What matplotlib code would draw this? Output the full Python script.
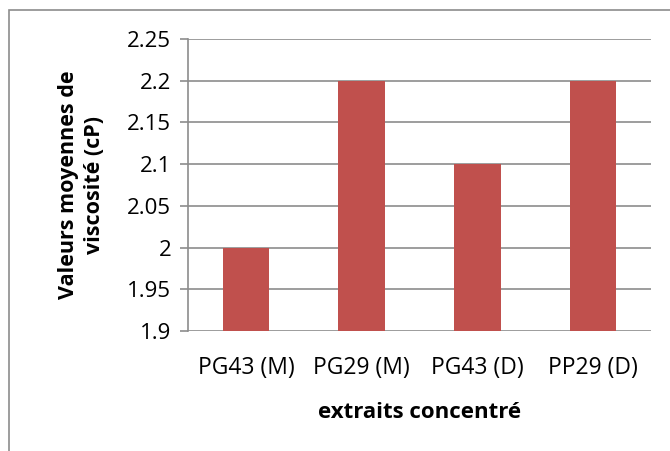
import matplotlib.pyplot as plt
from matplotlib.patches import Rectangle

# Viscosite moyenne des extraits concentres
extraits = ['PG43 (M)', 'PG29 (M)', 'PG43 (D)', 'PP29 (D)']
viscosite = [2.0, 2.2, 2.1, 2.2]
graduations = [1.9, 1.95, 2.0, 2.05, 2.1, 2.15, 2.2, 2.25]
etiquettes_y = ['1.9', '1.95', '2', '2.05', '2.1', '2.15', '2.2', '2.25']

plt.rcParams['font.family'] = ['Open Sans', 'DejaVu Sans']

fig = plt.figure(figsize=(6.7, 4.51), dpi=100)
ax = fig.add_axes([188 / 670, 1 - 331 / 451, 463 / 670, 292 / 451])

# cadre du graphique (coupe a droite et en bas)
fig.patches.append(Rectangle((9 / 670, -0.1), 1.2, 1 - 10 / 451 + 0.1,
                             transform=fig.transFigure, fill=False,
                             edgecolor='#8c8c8c', linewidth=1.2))

pos = range(len(extraits))
ax.bar(pos, [v - 1.9 for v in viscosite], bottom=1.9, width=0.4,
       color='#C0504D', zorder=3)

ax.set_xlim(-0.5, len(extraits) - 0.5)
ax.set_ylim(1.9, 2.25)
ax.set_yticks(graduations)
ax.set_yticklabels(etiquettes_y)
ax.set_xticks(list(pos))
ax.set_xticklabels(extraits)
ax.yaxis.grid(True, color='#8c8c8c', linewidth=1.2, zorder=0)
ax.set_axisbelow(True)

for side in ['top', 'right', 'bottom']:
    ax.spines[side].set_visible(False)
ax.spines['left'].set_color('#8c8c8c')
ax.spines['left'].set_linewidth(1.2)
ax.tick_params(axis='y', length=6, width=1.2, color='#8c8c8c',
               labelsize=16, pad=6)
ax.tick_params(axis='x', length=0, labelsize=16.5, pad=18)

ax.set_xlabel('extraits concentré', fontsize=16, fontweight='bold',
              labelpad=16)
ax.set_ylabel('Valeurs moyennes de\nviscosité (cP)', fontsize=15.5,
              fontweight='bold', labelpad=16, linespacing=1.35)

fig.savefig('out.png', dpi=100)
